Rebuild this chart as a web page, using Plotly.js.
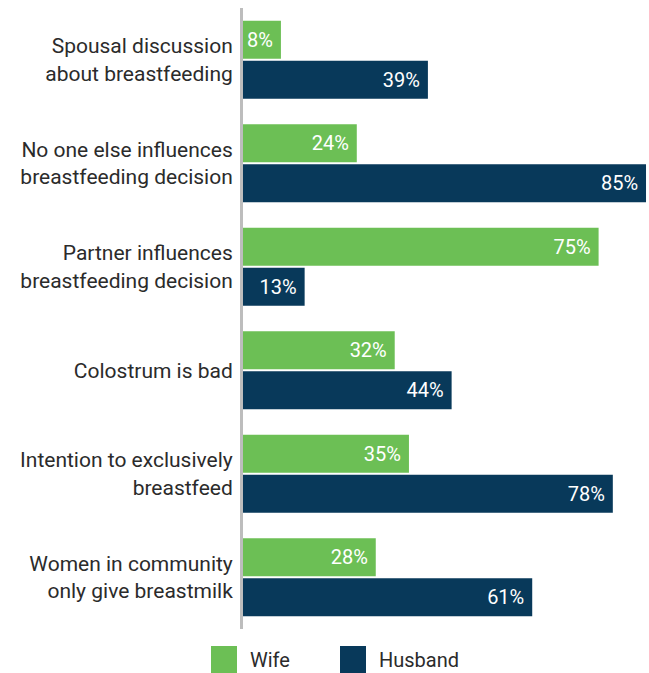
<!DOCTYPE html>
<html>
<head>
<meta charset="utf-8">
<script src="https://cdn.plot.ly/plotly-3.0.1.min.js"></script>
<style>html,body{margin:0;padding:0;background:#fff;}#chart{width:649px;height:673px;}</style>
</head>
<body>
<div id="chart"></div>
<script>
const categories = [
  "Spousal discussion<br>about breastfeeding",
  "No one else influences<br>breastfeeding decision",
  "Partner influences<br>breastfeeding decision",
  "Colostrum is bad",
  "Intention to exclusively<br>breastfeed",
  "Women in community<br>only give breastmilk"
];
const wifeValues = [8, 24, 75, 32, 35, 28];
const husbandValues = [39, 85, 13, 44, 78, 61];
const seriesNames = ["Wife", "Husband"];

const GREEN = "#6CBF55";
const NAVY = "#08395A";
const FONT = "Roboto, 'Open Sans', sans-serif";

const W = 649, H = 673;
const M = {l: 243, r: 0, t: 8, b: 44};
const pw = W - M.l - M.r, ph = H - M.t - M.b;
const px2x = p => (p - M.l) / pw;
const px2y = p => (H - M.b - p) / ph;

function barTrace(name, vals, color) {
  return {
    type: "bar", orientation: "h", name: name,
    x: vals, y: categories,
    marker: {color: color, line: {width: 0}},
    text: vals.map(v => v + "%\u00a0"),
    textposition: "inside",
    insidetextanchor: "end",
    textangle: 0,
    constraintext: "none",
    textfont: {family: FONT, size: 20, color: "#ffffff"},
    hoverinfo: "none",
    showlegend: false
  };
}

const data = [
  barTrace(seriesNames[0], wifeValues, GREEN),
  barTrace(seriesNames[1], husbandValues, NAVY)
];

const legendItems = [
  {color: GREEN, name: seriesNames[0], x0: 211},
  {color: NAVY, name: seriesNames[1], x0: 340}
];
const shapes = [], annotations = [];
legendItems.forEach(it => {
  shapes.push({type: "rect", xref: "paper", yref: "paper",
    x0: px2x(it.x0), x1: px2x(it.x0 + 26), y0: px2y(673), y1: px2y(646),
    fillcolor: it.color, line: {width: 0}, layer: "above"});
  annotations.push({xref: "paper", yref: "paper", x: px2x(it.x0 + 37), y: px2y(659.5),
    xanchor: "left", yanchor: "middle", showarrow: false, text: it.name,
    font: {family: FONT, size: 20, color: "#2b2b2b"}});
});

const layout = {
  width: W, height: H,
  margin: M,
  paper_bgcolor: "#ffffff", plot_bgcolor: "#ffffff",
  barmode: "group", bargap: 0.227, bargroupgap: 0.05,
  showlegend: false,
  font: {family: FONT, color: "#2b2b2b"},
  xaxis: {range: [0, 85.63], showgrid: false, zeroline: false, showticklabels: false, showline: false, fixedrange: true},
  yaxis: {
    type: "category", range: [5.5, -0.5], autorange: false,
    showgrid: false, zeroline: false,
    showline: true, linecolor: "#BDBDBD", linewidth: 3,
    ticks: "", ticklabelstandoff: 3,
    tickfont: {family: FONT, size: 21, color: "#2b2b2b"}
  },
  shapes: shapes,
  annotations: annotations
};

Plotly.newPlot("chart", data, layout, {displayModeBar: false, staticPlot: true});
</script>
</body>
</html>
